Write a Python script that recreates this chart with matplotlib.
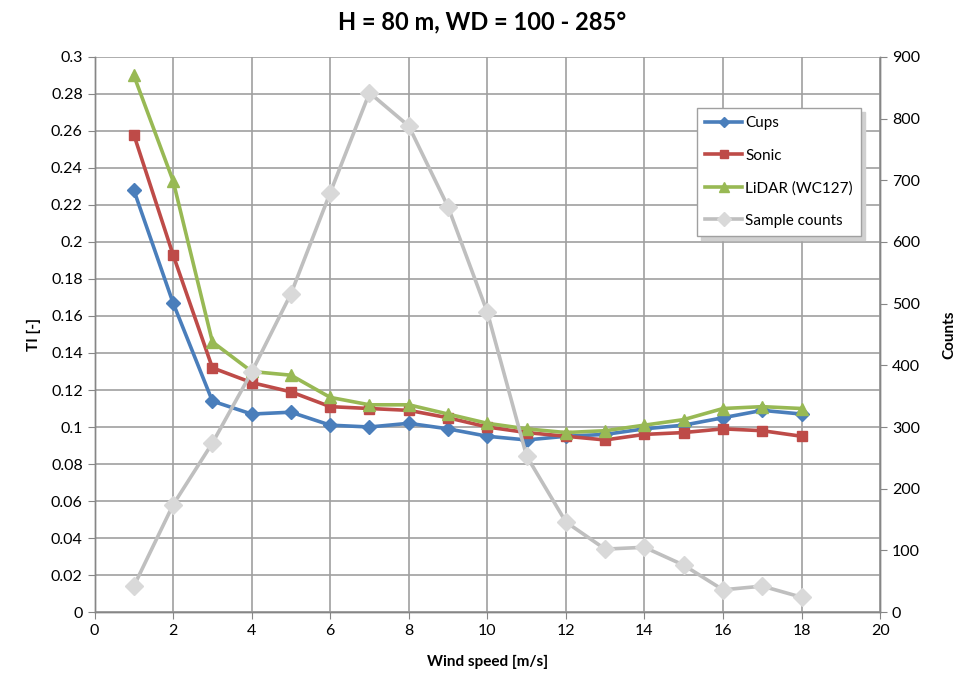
import matplotlib
matplotlib.use("Agg")
import matplotlib.pyplot as plt
from matplotlib.ticker import MultipleLocator, FuncFormatter

plt.rcParams['font.family'] = ['Lato', 'DejaVu Sans']

wind_speed = [1, 2, 3, 4, 5, 6, 7, 8, 9, 10, 11, 12, 13, 14, 15, 16, 17, 18]
cups = [0.228, 0.167, 0.114, 0.107, 0.108, 0.101, 0.100, 0.102, 0.099, 0.095,
        0.093, 0.095, 0.096, 0.099, 0.101, 0.105, 0.109, 0.107]
sonic = [0.258, 0.193, 0.132, 0.124, 0.119, 0.111, 0.110, 0.109, 0.105, 0.100,
         0.097, 0.095, 0.093, 0.096, 0.097, 0.099, 0.098, 0.095]
lidar = [0.290, 0.233, 0.146, 0.130, 0.128, 0.116, 0.112, 0.112, 0.107, 0.102,
         0.099, 0.097, 0.098, 0.101, 0.104, 0.110, 0.111, 0.110]
counts = [42, 174, 274, 389, 516, 680, 842, 788, 657, 486,
          253, 146, 102, 105, 76, 36, 42, 24]

fig = plt.figure(figsize=(9.65, 6.75), dpi=100)
ax1 = fig.add_axes([0.098, 0.0933, 0.814, 0.8223])
ax2 = ax1.twinx()

lw = 2.6
l1, = ax1.plot(wind_speed, cups, color='#4A7EBB', lw=lw, marker='D', ms=7, label='Cups')
l2, = ax1.plot(wind_speed, sonic, color='#BE4B48', lw=lw, marker='s', ms=7, label='Sonic')
l3, = ax1.plot(wind_speed, lidar, color='#98B954', lw=lw, marker='^', ms=9, label='LiDAR (WC127)')
l4, = ax2.plot(wind_speed, counts, color='#BFBFBF', lw=lw, marker='D', ms=9,
               mfc='#D9D9D9', mec='#D9D9D9', label='Sample counts')

ax1.set_xlim(0, 20)
ax1.set_ylim(0, 0.3)
ax2.set_ylim(0, 900)
ax1.xaxis.set_major_locator(MultipleLocator(2))
ax1.yaxis.set_major_locator(MultipleLocator(0.02))
ax2.yaxis.set_major_locator(MultipleLocator(100))
ax1.yaxis.set_major_formatter(FuncFormatter(lambda v, p: ('%.2f' % v).rstrip('0').rstrip('.') if v != 0 else '0'))

ax1.grid(True, color='#A0A0A0', lw=1.2)
ax1.set_axisbelow(True)
for ax in (ax1, ax2):
    for s in ax.spines.values():
        s.set_color('#868686')
        s.set_linewidth(1.0)
ax1.spines['top'].set_visible(False)
ax2.spines['top'].set_visible(False)
ax1.tick_params(axis='both', labelsize=11.5, color='#868686', length=5, direction='out')
ax2.tick_params(axis='y', labelsize=11.5, color='#868686', length=5, direction='out')

ax1.set_xlabel('Wind speed [m/s]', fontsize=11, fontweight='bold', labelpad=12)
ax1.set_ylabel('TI [-]', fontsize=11, fontweight='bold', labelpad=7)
ax2.set_ylabel('Counts', fontsize=11, fontweight='bold', labelpad=16)
fig.suptitle('H = 80 m, WD = 100 - 285°', fontsize=17, fontweight='bold', y=0.985)

leg = ax2.legend(handles=[l1, l2, l3, l4], loc='upper left',
                 bbox_to_anchor=(0.767, 0.908), borderaxespad=0, fontsize=11, frameon=True,
                 fancybox=False, edgecolor='#A0A0A0', framealpha=1,
                 handlelength=2.4, handletextpad=0.2, labelspacing=1.2,
                 borderpad=0.55, markerscale=0.8,
                 shadow={'ox': 3, 'oy': -3, 'color': '#D0D0D0', 'alpha': 1})

fig.savefig('out.png', dpi=100)
